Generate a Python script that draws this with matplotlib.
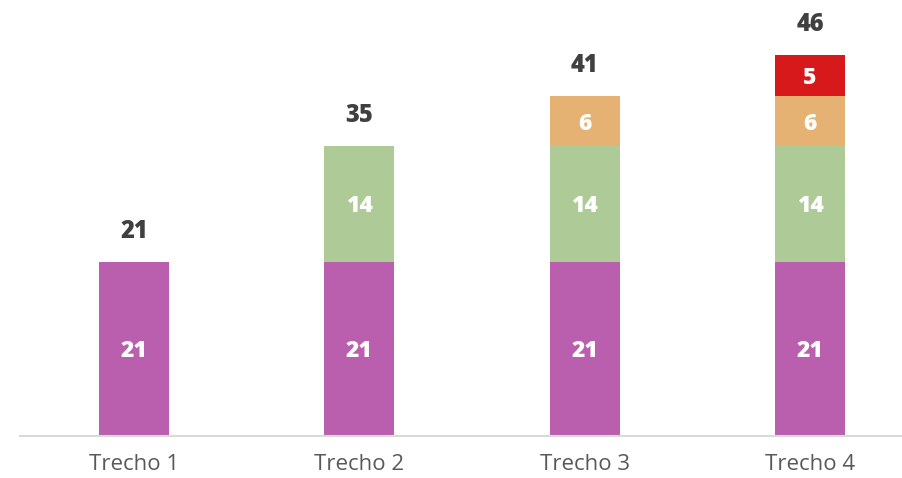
import matplotlib
matplotlib.use("Agg")
import matplotlib.pyplot as plt
import numpy as np

categories = ["Trecho 1", "Trecho 2", "Trecho 3", "Trecho 4"]
s1 = [21, 21, 21, 21]
s2 = [0, 14, 14, 14]
s3 = [0, 0, 6, 6]
s4 = [0, 0, 0, 5]
totals = [21, 35, 41, 46]

colors = ["#B95FAE", "#ADCA97", "#E5B274", "#D7191C"]

fig = plt.figure(figsize=(9.02, 4.78), dpi=100)
ax = fig.add_axes([20/902, 42/478, 882/902, (478-42-5)/478])

x = np.arange(len(categories))
w = 0.31
bottom = np.zeros(len(categories))
font = ["Open Sans", "DejaVu Sans"]
for vals, c in zip([s1, s2, s3, s4], colors):
    vals = np.array(vals, dtype=float)
    ax.bar(x, vals, w, bottom=bottom, color=c, edgecolor="none")
    for xi, v, b in zip(x, vals, bottom):
        if v > 0:
            ax.text(xi, b + v/2 - 0.3, f"{int(v)}", ha="center", va="center",
                    color="white", fontsize=16.5, fontweight="heavy", family=font)
    bottom += vals

for xi, t in zip(x, totals):
    ax.text(xi, t + 3.7, f"{t}", ha="center", va="center",
            color="#404040", fontsize=17, fontweight="heavy", family=font)

ax.set_xlim(-0.506, 3.408)
ax.set_ylim(0, 52)
ax.set_xticks(x)
ax.set_xticklabels(categories, fontsize=16, color="#595959", family=font)
ax.tick_params(axis="x", length=0, pad=13)
ax.set_yticks([])
for s in ["top", "right", "left"]:
    ax.spines[s].set_visible(False)
ax.spines["bottom"].set_color("#D9D9D9")
ax.spines["bottom"].set_linewidth(1.5)

fig.savefig("out.png", dpi=100)
